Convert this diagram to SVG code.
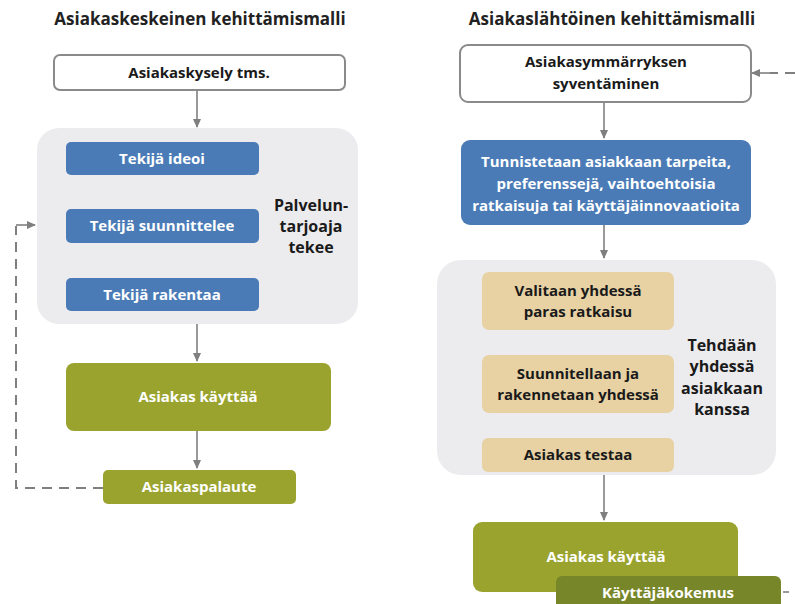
<svg xmlns="http://www.w3.org/2000/svg" width="795" height="604" viewBox="0 0 795 604">
<defs>
<marker id="ah" markerWidth="10" markerHeight="10" refX="8" refY="5" orient="auto" markerUnits="userSpaceOnUse">
<path d="M0,1 L9,5 L0,9 Z" fill="#7f7f7f"/>
</marker>
<style>
text{font-family:"Open Sans","Liberation Sans",sans-serif;font-weight:bold;text-anchor:middle}
.title{font-size:17px;fill:#222}
.dark{font-size:15px;fill:#1a1a1a}
.wt{font-size:15px;fill:#fff}
.side{font-size:16px;fill:#1a1a1a}
.wbox{fill:#fff;stroke:#8a8a8a;stroke-width:2}
.cont{fill:#ececee}
.blue{fill:#4a7bb7}
.green{fill:#9aa32e}
.dgreen{fill:#778629}
.tan{fill:#e8d2a4}
.ln{stroke:#808080;stroke-width:1.6;fill:none}
.dash{stroke:#7f7f7f;stroke-width:2;fill:none;stroke-dasharray:10,7}
</style>
</defs>
<rect width="795" height="604" fill="#fff"/>

<text class="title" x="200" y="25">Asiakaskeskeinen kehittämismalli</text>
<text class="title" x="612" y="25">Asiakaslähtöinen kehittämismalli</text>

<g id="connectors">
<line class="ln" x1="197" y1="90" x2="197" y2="127" marker-end="url(#ah)"/>
<line class="ln" x1="197" y1="324" x2="197" y2="361" marker-end="url(#ah)"/>
<line class="ln" x1="197" y1="431" x2="197" y2="468" marker-end="url(#ah)"/>
<path class="dash" d="M103,488 H16 V226"/>
<line class="ln" x1="16" y1="225" x2="35" y2="225" marker-end="url(#ah)"/>
<line class="ln" x1="604" y1="102" x2="604" y2="138" marker-end="url(#ah)"/>
<line class="ln" x1="604" y1="225" x2="604" y2="258" marker-end="url(#ah)"/>
<line class="ln" x1="604" y1="475" x2="604" y2="520" marker-end="url(#ah)"/>
<path class="dash" d="M795,73 H770"/>
<line class="ln" x1="772" y1="73" x2="752" y2="73" marker-end="url(#ah)"/>
<line class="ln" x1="783" y1="592" x2="789" y2="592"/>
</g>

<g id="asiakaskysely">
<rect class="wbox" x="54" y="55" width="291" height="35" rx="6"/>
<text class="dark" x="199" y="78">Asiakaskysely tms.</text>
</g>

<g id="palveluntarjoaja">
<rect class="cont" x="37" y="128" width="321" height="196" rx="22"/>
<text class="side"><tspan x="311" y="211">Palvelun-</tspan><tspan x="311" y="232">tarjoaja</tspan><tspan x="311" y="253">tekee</tspan></text>
</g>
<g id="ideoi">
<rect class="blue" x="66" y="142" width="193" height="33" rx="5"/>
<text class="wt" x="162" y="164">Tekijä ideoi</text>
</g>
<g id="suunnittelee">
<rect class="blue" x="66" y="209" width="193" height="34" rx="5"/>
<text class="wt" x="162" y="231">Tekijä suunnittelee</text>
</g>
<g id="rakentaa">
<rect class="blue" x="66" y="278" width="193" height="33" rx="5"/>
<text class="wt" x="162" y="300">Tekijä rakentaa</text>
</g>
<g id="kayttaa1">
<rect class="green" x="66" y="363" width="265" height="68" rx="8"/>
<text class="wt" x="198" y="402">Asiakas käyttää</text>
</g>
<g id="palaute">
<rect class="green" x="103" y="470" width="193" height="34" rx="5"/>
<text class="wt" x="199" y="492">Asiakaspalaute</text>
</g>

<g id="syventaminen">
<rect class="wbox" x="460" y="45" width="291" height="57" rx="8"/>
<text class="dark"><tspan x="606" y="67">Asiakasymmärryksen</tspan><tspan x="606" y="89">syventäminen</tspan></text>
</g>
<g id="tunnistetaan">
<rect class="blue" x="461" y="140" width="290" height="85" rx="9"/>
<text class="wt"><tspan x="606" y="167">Tunnistetaan asiakkaan tarpeita,</tspan><tspan x="606" y="189">preferenssejä, vaihtoehtoisia</tspan><tspan x="606" y="211">ratkaisuja tai käyttäjäinnovaatioita</tspan></text>
</g>
<g id="yhdessa">
<rect class="cont" x="437" y="260" width="339" height="215" rx="24"/>
<text class="side"><tspan x="722" y="351">Tehdään</tspan><tspan x="722" y="372">yhdessä</tspan><tspan x="722" y="394">asiakkaan</tspan><tspan x="722" y="415">kanssa</tspan></text>
</g>
<g id="valitaan">
<rect class="tan" x="482" y="272" width="192" height="58" rx="7"/>
<text class="dark"><tspan x="578" y="296">Valitaan yhdessä</tspan><tspan x="578" y="317">paras ratkaisu</tspan></text>
</g>
<g id="suunnitellaan">
<rect class="tan" x="482" y="355" width="192" height="58" rx="7"/>
<text class="dark"><tspan x="578" y="379">Suunnitellaan ja</tspan><tspan x="578" y="400">rakennetaan yhdessä</tspan></text>
</g>
<g id="testaa">
<rect class="tan" x="482" y="438" width="192" height="34" rx="6"/>
<text class="dark" x="578" y="460">Asiakas testaa</text>
</g>
<g id="kayttaa2">
<rect class="green" x="473" y="522" width="265" height="70" rx="9"/>
<text class="wt" x="606" y="562">Asiakas käyttää</text>
</g>
<g id="kayttajakokemus">
<rect class="dgreen" x="556" y="576" width="225" height="40" rx="6"/>
<text class="wt" x="668" y="598">Käyttäjäkokemus</text>
</g>
</svg>
